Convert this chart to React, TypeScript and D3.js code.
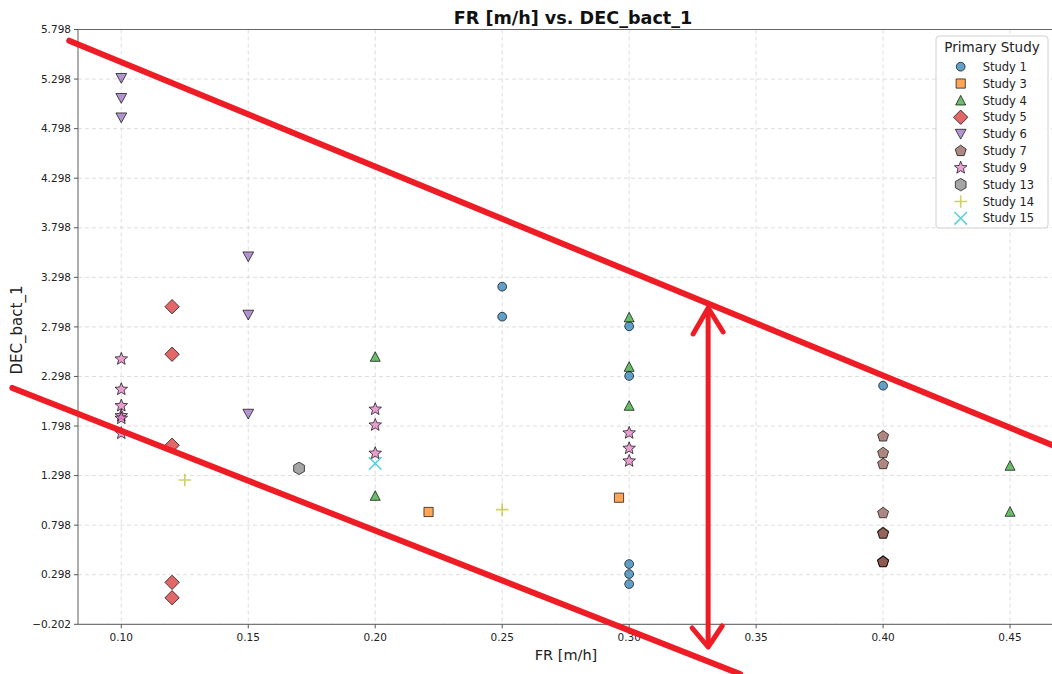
import React from "react";
import * as d3 from "d3";

// ---- data ----
const studyNames = ["Study 1", "Study 3", "Study 4", "Study 5", "Study 6", "Study 7", "Study 9", "Study 13", "Study 14", "Study 15"];
const studyColors = ["#1f77b4", "#ff7f0e", "#2ca02c", "#d62728", "#9467bd", "#8c564b", "#e377c2", "#7f7f7f", "#bcbd22", "#17becf"];
const studyMarkers = ["circle", "square", "triUp", "diamond", "triDown", "pentagon", "star", "hexagon", "plus", "cross"];

const study1X = [0.25, 0.25, 0.30, 0.30, 0.30, 0.30, 0.30, 0.40];
const study1Y = [3.204, 2.901, 2.804, 2.303, 0.406, 0.305, 0.204, 2.205];
const study3X = [0.221, 0.296];
const study3Y = [0.931, 1.075];
const study4X = [0.20, 0.20, 0.30, 0.30, 0.30, 0.45, 0.45];
const study4Y = [2.497, 1.095, 2.895, 2.396, 2.003, 1.398, 0.934];
const study5X = [0.12, 0.12, 0.12, 0.12, 0.12];
const study5Y = [3.002, 2.522, 1.604, 0.221, 0.066];
const study6X = [0.10, 0.10, 0.10, 0.15, 0.15, 0.15];
const study6Y = [5.306, 5.104, 4.908, 3.506, 2.918, 1.919];
const study7X = [0.40, 0.40, 0.40, 0.40, 0.40, 0.40, 0.40, 0.40, 0.40];
const study7Y = [1.694, 1.526, 1.415, 0.920, 0.720, 0.712, 0.432, 0.428, 0.425];
const study9X = [0.10, 0.10, 0.10, 0.10, 0.10, 0.10, 0.20, 0.20, 0.20, 0.30, 0.30, 0.30];
const study9Y = [2.474, 2.168, 2.003, 1.902, 1.876, 1.725, 1.967, 1.808, 1.523, 1.728, 1.573, 1.445];
const study13X = [0.17];
const study13Y = [1.371];
const study14X = [0.125, 0.25];
const study14Y = [1.253, 0.955];
const study15X = [0.20];
const study15Y = [1.421];

const studyXs = [study1X, study3X, study4X, study5X, study6X, study7X, study9X, study13X, study14X, study15X];
const studyYs = [study1Y, study3Y, study4Y, study5Y, study6Y, study7Y, study9Y, study13Y, study14Y, study15Y];

const xTicks = [0.10, 0.15, 0.20, 0.25, 0.30, 0.35, 0.40, 0.45];
const yTicks = [-0.202, 0.298, 0.798, 1.298, 1.798, 2.298, 2.798, 3.298, 3.798, 4.298, 4.798, 5.298, 5.798];

// hand-drawn red band and arrow, in data units
const upperLineX = [0.0795, 0.4665];
const upperLineY = [5.685, 1.606];
const lowerLineX = [0.0571, 0.3437];
const lowerLineY = [2.182, -0.704];
const arrowX = 0.3311;
const arrowY = [2.989, -0.431];

// ---- layout ----
const W = 1052;
const H = 674;
const plot = { left: 78, top: 29.5, right: 1055, bottom: 624.3 };
const FONT = "'DejaVu Sans', Verdana, sans-serif";

const x = d3.scaleLinear().domain([0.08295, 0.4677]).range([plot.left, plot.right]);
const y = d3.scaleLinear().domain([-0.202, 5.798]).range([plot.bottom, plot.top]);

function polygon(n: number, r: number, rot: number): string {
  const pts: string[] = [];
  for (let i = 0; i < n; i++) {
    const a = rot + (i * 2 * Math.PI) / n;
    pts.push(`${(r * Math.sin(a)).toFixed(2)},${(-r * Math.cos(a)).toFixed(2)}`);
  }
  return "M" + pts.join("L") + "Z";
}

function starPath(ro: number, ri: number): string {
  const pts: string[] = [];
  for (let i = 0; i < 10; i++) {
    const r = i % 2 === 0 ? ro : ri;
    const a = (i * Math.PI) / 5;
    pts.push(`${(r * Math.sin(a)).toFixed(2)},${(-r * Math.cos(a)).toFixed(2)}`);
  }
  return "M" + pts.join("L") + "Z";
}

function markerPath(kind: string): string {
  switch (kind) {
    case "circle":
      return d3.arc()({ innerRadius: 0, outerRadius: 4.4, startAngle: 0, endAngle: 2 * Math.PI }) as string;
    case "square":
      return "M-4.6,-4.6L4.6,-4.6L4.6,4.6L-4.6,4.6Z";
    case "triUp":
      return "M0,-5L5,4.6L-5,4.6Z";
    case "triDown":
      return "M0,5L5.4,-4.8L-5.4,-4.8Z";
    case "diamond":
      return "M0,-7.2L7.2,0L0,7.2L-7.2,0Z";
    case "pentagon":
      return polygon(5, 5.8, 0);
    case "hexagon":
      return polygon(6, 6.2, 0);
    case "star":
      return starPath(6.6, 2.9);
    case "plus":
      return "M-6.3,0L6.3,0M0,-6.3L0,6.3";
    case "cross":
      return "M-6.3,-6.3L6.3,6.3M-6.3,6.3L6.3,-6.3";
  }
  return "";
}

function Marker({ kind, color, cx, cy }: { kind: string; color: string; cx: number; cy: number }) {
  const d = markerPath(kind);
  const lineOnly = kind === "plus" || kind === "cross";
  if (lineOnly) {
    return (
      <path d={d} transform={`translate(${cx},${cy})`} fill="none" stroke={color} strokeOpacity={0.7} strokeWidth={1.6} />
    );
  }
  return (
    <path
      d={d}
      transform={`translate(${cx},${cy})`}
      fill={color}
      fillOpacity={0.7}
      stroke="#000"
      strokeOpacity={0.68}
      strokeWidth={1}
      strokeLinejoin="miter"
    />
  );
}

export default function App() {
  const red = "#ee1c25";
  const legendX = 936;
  const legendY = 36;
  const legendW = 112;
  const legendH = 192;
  const rowGap = 16.85;

  const ax = x(arrowX);
  const ayTop = y(arrowY[0]);
  const ayBot = y(arrowY[1]);

  return (
    <svg
      width={W}
      height={H}
      style={{ position: "absolute", left: 0, top: 0, background: "#fff" }}
      fontFamily={FONT}
    >
      <rect width={W} height={H} fill="#fff" />

      {/* grid */}
      <g stroke="#d9d9d9" strokeWidth={0.9} strokeDasharray="4,3">
        {xTicks.map((t) => (
          <line key={"gx" + t} x1={x(t)} x2={x(t)} y1={plot.top} y2={plot.bottom} />
        ))}
        {yTicks.map((t) => (
          <line key={"gy" + t} x1={plot.left} x2={plot.right} y1={y(t)} y2={y(t)} />
        ))}
      </g>

      {/* frame */}
      <line x1={plot.left} x2={plot.right} y1={plot.top} y2={plot.top} stroke="#666" strokeWidth={1.2} />
      <line x1={plot.left} x2={plot.right} y1={plot.bottom} y2={plot.bottom} stroke="#777" strokeWidth={1.2} />
      <line x1={plot.left} x2={plot.left} y1={plot.top} y2={plot.bottom} stroke="#777" strokeWidth={1.2} />

      {/* y axis */}
      <g fontSize={10.5} fill="#222" textAnchor="end">
        {yTicks.map((t) => (
          <g key={"ty" + t}>
            <line x1={plot.left - 4} x2={plot.left} y1={y(t)} y2={y(t)} stroke="#555" />
            <text x={plot.left - 7} y={y(t)} dy="0.35em">
              {t < 0 ? "\u2212" + Math.abs(t).toFixed(3) : t.toFixed(3)}
            </text>
          </g>
        ))}
      </g>

      {/* x axis */}
      <g fontSize={10.5} fill="#222" textAnchor="middle">
        {xTicks.map((t) => (
          <g key={"tx" + t}>
            <line x1={x(t)} x2={x(t)} y1={plot.bottom} y2={plot.bottom + 4} stroke="#555" />
            <text x={x(t)} y={plot.bottom + 17}>
              {t.toFixed(2)}
            </text>
          </g>
        ))}
      </g>

      <text x={566} y={660} textAnchor="middle" fontSize={14.5} fill="#222">
        FR [m/h]
      </text>
      <text transform={`translate(22,330) rotate(-90)`} textAnchor="middle" fontSize={15} fill="#222">
        DEC_bact_1
      </text>
      <text x={573} y={24} textAnchor="middle" fontSize={17.6} fontWeight="bold" fill="#111">
        FR [m/h] vs. DEC_bact_1
      </text>

      {/* points */}
      {studyNames.map((name, si) => (
        <g key={name}>
          {studyXs[si].map((vx, i) => (
            <Marker key={i} kind={studyMarkers[si]} color={studyColors[si]} cx={x(vx)} cy={y(studyYs[si][i])} />
          ))}
        </g>
      ))}

      {/* legend */}
      <rect
        x={legendX}
        y={legendY}
        width={legendW}
        height={legendH}
        rx={3}
        fill="#fff"
        fillOpacity={0.85}
        stroke="#d0d0d0"
        strokeWidth={1}
      />
      <text x={legendX + legendW / 2} y={legendY + 15.5} textAnchor="middle" fontSize={13.5} fill="#222">
        Primary Study
      </text>
      {studyNames.map((name, si) => {
        const ry = 66.7 + si * rowGap;
        return (
          <g key={"lg" + name}>
            <Marker kind={studyMarkers[si]} color={studyColors[si]} cx={960.7} cy={ry} />
            <text x={982.7} y={ry} dy="0.36em" fontSize={11.5} fill="#222">
              {name}
            </text>
          </g>
        );
      })}

      {/* red annotation band and arrow */}
      <g stroke={red} strokeWidth={6} strokeLinecap="round" fill="none">
        <line x1={x(upperLineX[0])} y1={y(upperLineY[0])} x2={x(upperLineX[1])} y2={y(upperLineY[1])} />
        <line x1={x(lowerLineX[0])} y1={y(lowerLineY[0])} x2={x(lowerLineX[1])} y2={y(lowerLineY[1])} />
        <line x1={ax} y1={ayTop + 2} x2={ax} y2={ayBot - 2} strokeWidth={5} />
        <path d={`M${ax - 15},${ayTop + 26}L${ax},${ayTop}L${ax + 15},${ayTop + 24}`} strokeWidth={5} strokeLinejoin="round" />
        <path d={`M${ax - 16},${ayBot - 19}L${ax},${ayBot}L${ax + 14},${ayBot - 21}`} strokeWidth={5} strokeLinejoin="round" />
      </g>
    </svg>
  );
}
